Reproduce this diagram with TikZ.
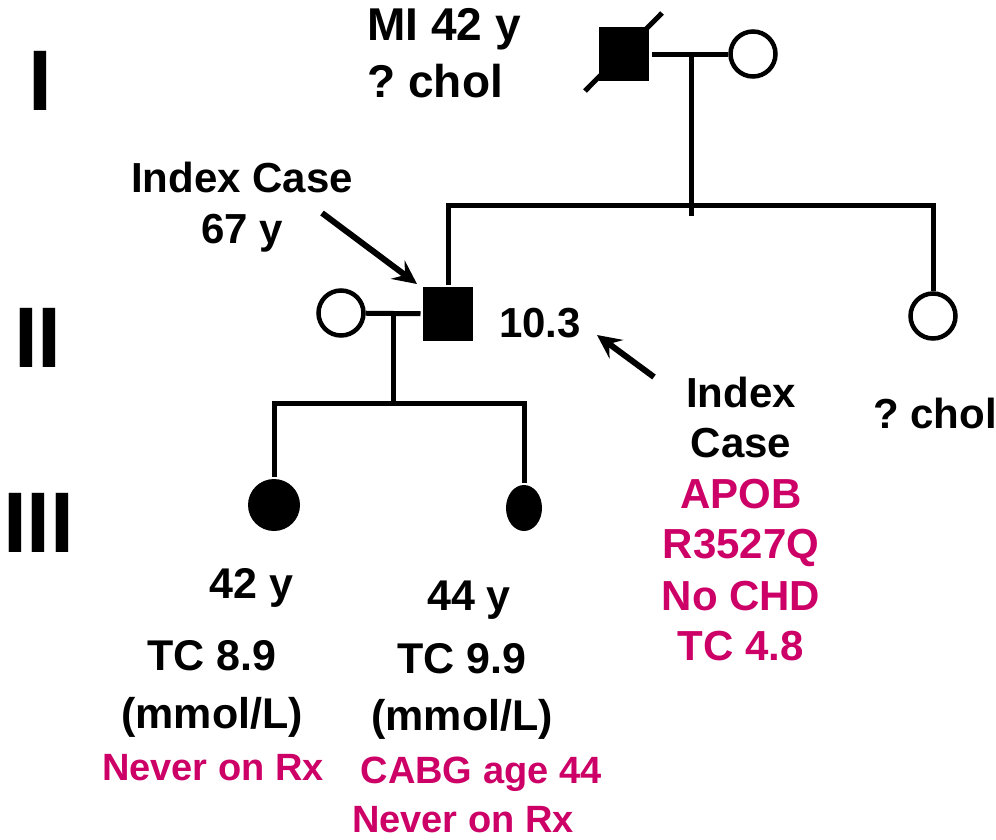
\documentclass[tikz,border=0pt]{standalone}
\usepackage{fontspec}
\setmainfont{Liberation Sans}
\usetikzlibrary{arrows.meta, positioning, shapes.geometric}
\definecolor{rxpink}{RGB}{204,0,102}

\begin{document}
\frenchspacing
\begin{tikzpicture}[
    x=1pt, y=-1pt, % picture coordinates in pixels
    line width=5pt,
    male/.style={rectangle, fill=black, minimum width=50pt, minimum height=54pt, inner sep=0pt},
    female/.style={circle, draw=black, line width=4.5pt, minimum size=45pt, inner sep=0pt},
    affected/.style={circle, fill=black, minimum size=52pt, inner sep=0pt},
    affected_ell/.style={ellipse, fill=black, minimum width=36pt, minimum height=46pt, inner sep=0pt},
    txt/.style={font=\fontsize{42}{50}\selectfont\bfseries, inner sep=0pt, anchor=base},
    txt_big/.style={txt, font=\fontsize{43}{50}\selectfont\bfseries},
    txt_red/.style={txt, text=rxpink},
    txt_rx/.style={txt, text=rxpink, font=\fontsize{38}{46}\selectfont\bfseries},
    gen/.style={font=\fontsize{86}{86}\selectfont\bfseries, inner sep=0pt, anchor=base west},
    pointer/.style={-{Stealth[length=24pt, width=23pt, inset=9pt]}, line width=6pt}
]
\useasboundingbox (0,0) rectangle (996,839);

% Generation numerals
\node[gen] (genI) at (26,110) {I};
\node[gen] (genII) at (11.5,367) {II};
\node[gen] (genIII) at (0.5,552) {III};

% Generation I
\node[male] (g1m) at (624,54) {};
\node[female] (g1f) at (753,54) {};
\draw (g1m) -- (g1f);
\draw ([shift={(-39,37)}]g1m.center) -- ([shift={(38,-41)}]g1m.center); % deceased
\coordinate (g1top) at (691,54);
\coordinate (g1bot) at (691,216);
\draw (g1top) -- (g1bot);
\node[txt, anchor=base west, font=\fontsize{46}{50}\selectfont\bfseries] (mi_age) at (365,40) {MI 42 y};
\node[txt, anchor=base west, font=\fontsize{46}{50}\selectfont\bfseries] (mi_chol) at (365,97) {? chol};

% Generation II
\node[female] (g2w) at (341,313) {};
\node[male] (ix) at (448,314) {};
\node[female] (g2s) at (933,316) {};
\draw (g2w) -- (ix);
\draw (ix.north) -- (ix.north |- 0,205) -- (g2s.north |- 0,205) -- (g2s.north);
\node[txt] (ix_lbl) at (242,192) {Index Case};
\node[txt] (ix_age) at (242,243) {67 y};
\node[txt] (ix_tc) at (540,337) {10.3};
\node[txt] (s_chol) at (935,428) {? chol};

% Index case notes
\node[txt] (n1) at (741,407) {Index};
\node[txt] (n2) at (741,457) {Case};
\node[txt_red] (n3) at (741,508) {APOB};
\node[txt_red] (n4) at (741,558) {R3527Q};
\node[txt_red] (n5) at (741,610) {No CHD};
\node[txt_red] (n6) at (741,660) {TC 4.8};

% Arrows
\coordinate (a1) at (322,213);
\coordinate (a1tip) at (417,284);
\draw[pointer] (a1) -- (a1tip);
\coordinate (a2) at (654,377);
\coordinate (a2tip) at (597,335);
\draw[pointer] (a2) -- (a2tip);

% Generation III
\node[affected] (c1) at (274,505) {};
\node[affected_ell] (c2) at (524,508) {};
\coordinate (g2top) at (393,313);
\coordinate (g2bot) at (393,403);
\draw (g2top) -- (g2bot);
\draw (c1.north) -- (c1.north |- g2bot) -- (c2.north |- g2bot) -- (c2.north);

\node[txt_big] (c1_age) at (251.5,598) {42 y};
\node[txt_big] (c1_tc) at (212,670) {TC 8.9};
\node[txt_big] (c1_unit) at (212,728) {(mmol/L)};
\node[txt_rx] (c1_rx) at (213,780) {Never on Rx};

\node[txt_big] (c2_age) at (469,610) {44 y};
\node[txt_big] (c2_tc) at (462,673) {TC 9.9};
\node[txt_big] (c2_unit) at (462,730) {(mmol/L)};
\node[txt_rx] (c2_cabg) at (481,783) {CABG age 44};
\node[txt_rx] (c2_rx) at (463,832) {Never on Rx};

\end{tikzpicture}
\end{document}
